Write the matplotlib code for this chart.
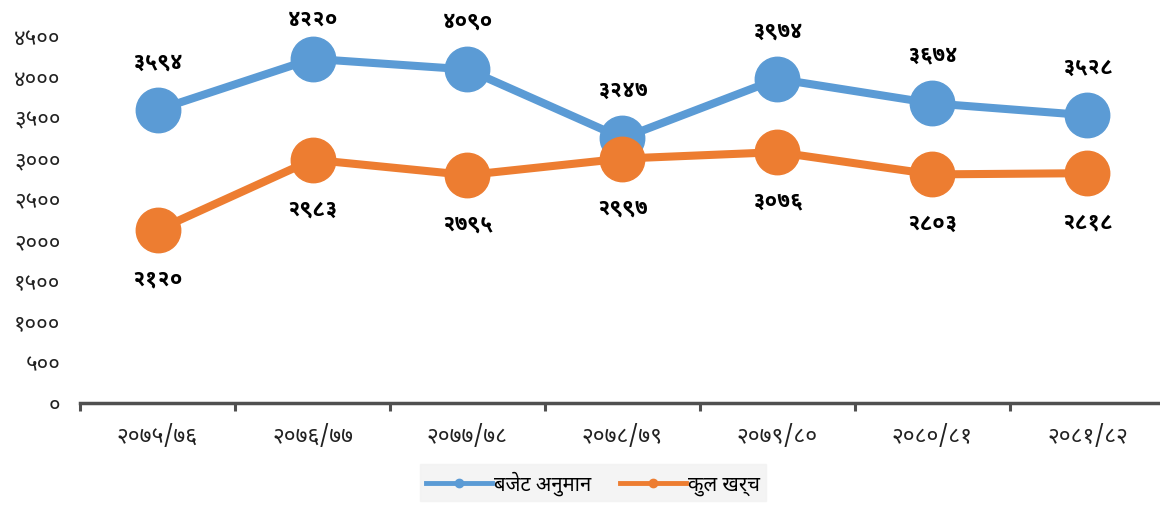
import matplotlib
matplotlib.use("Agg")
import matplotlib.pyplot as plt
from matplotlib import font_manager
from matplotlib.lines import Line2D

# data
years = ["२०७५/७६", "२०७६/७७", "२०७७/७८", "२०७८/७९", "२०७९/८०", "२०८०/८१", "२०८१/८२"]
budget = [3594, 4220, 4090, 3247, 3974, 3674, 3528]
spent = [2120, 2983, 2795, 2997, 3076, 2803, 2818]
series_names = ["बजेट अनुमान", "कुल खर्च"]
yticks = [0, 500, 1000, 1500, 2000, 2500, 3000, 3500, 4000, 4500]

DEV_DIGITS = str.maketrans("0123456789", "०१२३४५६७८९")

def dev(n):
    return str(n).translate(DEV_DIGITS)

# pick Devanagari fonts that are installed
cands = ["Noto Sans Devanagari", "Noto Sans Devanagari UI", "Mukta", "Hind", "Palanquin", "Poppins"]
ttf = font_manager.fontManager.ttflist

def pick(min_w=0, max_w=1000):
    for c in cands:
        for f in ttf:
            if f.name == c and min_w <= int(f.weight) <= max_w:
                return c
    return None

reg_font = pick(300, 450) or pick()
bold_font = pick(650, 800) or reg_font
reg_fam = [reg_font, "DejaVu Sans"] if reg_font else ["DejaVu Sans"]
bold_fam = [bold_font, "DejaVu Sans"] if bold_font else ["DejaVu Sans"]
plt.rcParams["font.family"] = reg_fam

blue = "#5B9BD5"
orange = "#ED7D31"

fig = plt.figure(figsize=(11.6, 5.06), dpi=100)
ax = fig.add_axes([80 / 1160, 1 - 404 / 506, 1085 / 1160, 367 / 506])

x = list(range(len(years)))
ax.plot(x, budget, color=blue, lw=5.8, marker="o", ms=32, zorder=3)
ax.plot(x, spent, color=orange, lw=5.8, marker="o", ms=32, zorder=4)

for i, v in enumerate(budget):
    # keep the top label inside the chart area
    off = 35 if v < 4150 else 29
    ax.annotate(dev(v), (i, v), xytext=(0, off), textcoords="offset points",
                ha="center", va="center", fontsize=16, fontweight="bold", family=bold_fam)
for i, v in enumerate(spent):
    ax.annotate(dev(v), (i, v), xytext=(0, -35), textcoords="offset points",
                ha="center", va="center", fontsize=16, fontweight="bold", family=bold_fam)

ax.set_xlim(-0.5, len(years) - 0.5)
ax.set_ylim(0, 4500)
ax.set_yticks(yticks)
ax.set_yticklabels([dev(v) for v in yticks], fontsize=16, color="#222222")
ax.set_xticks(x)
ax.set_xticklabels(years, fontsize=16.5, color="#222222")
ax.set_xticks([i - 0.5 for i in range(len(years) + 1)], minor=True)
ax.tick_params(axis="y", length=0, pad=14)
ax.tick_params(axis="x", which="major", length=0, pad=15)
ax.tick_params(axis="x", which="minor", length=6, width=2.2, color="#505050")

for s in ["top", "right", "left"]:
    ax.spines[s].set_visible(False)
ax.spines["bottom"].set_color("#505050")
ax.spines["bottom"].set_linewidth(2.5)
ax.set_facecolor("none")

handles = [Line2D([], [], color=blue, lw=3.5, marker="o", ms=6),
           Line2D([], [], color=orange, lw=3.5, marker="o", ms=6)]
leg = fig.legend(handles, series_names, loc="lower center", bbox_to_anchor=(593 / 1160, -0.012),
                 ncol=2, frameon=True, fancybox=False, fontsize=14.5, handlelength=3.3,
                 handletextpad=0.1, columnspacing=1.4, borderpad=0.3)
leg.get_frame().set_facecolor("#F2F2F2")
leg.get_frame().set_edgecolor("#F2F2F2")

fig.savefig("out.png", dpi=100)
